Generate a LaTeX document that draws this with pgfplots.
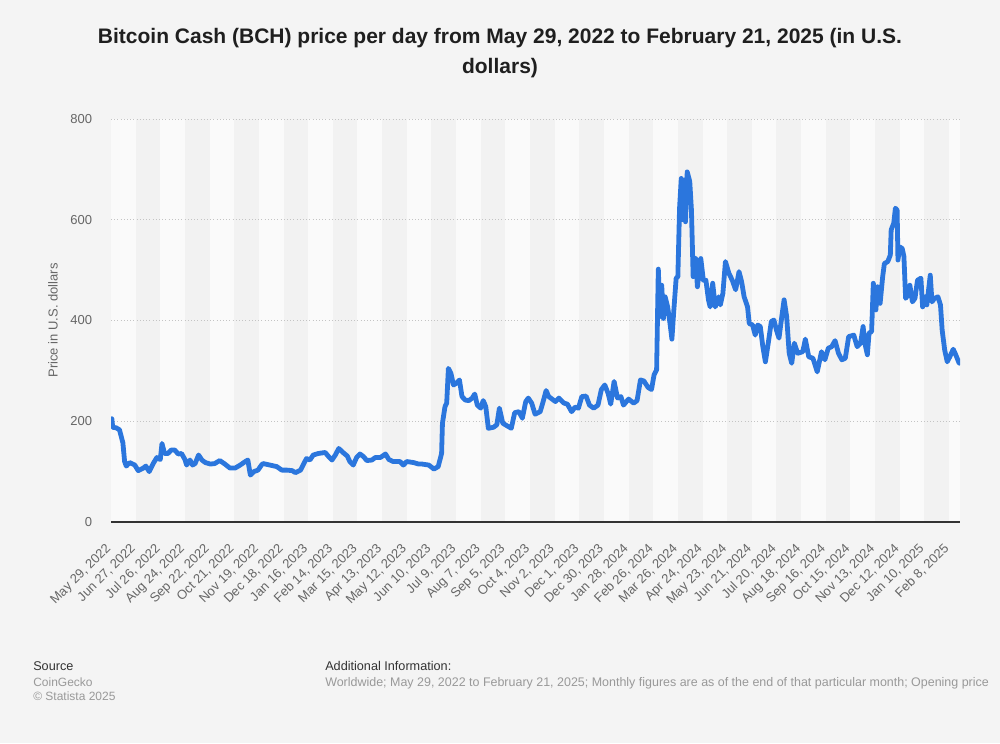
\documentclass[border=0pt]{standalone}
\usepackage{pgfplots}
\pgfplotsset{compat=1.18}
\usepackage{fontspec}
\setmainfont{Liberation Sans}

\definecolor{canvas}{HTML}{F4F4F4}
\definecolor{bandlight}{HTML}{FAFAFA}
\definecolor{banddark}{HTML}{F2F2F2}
\definecolor{bchblue}{HTML}{2B76DD}
\definecolor{ticktext}{HTML}{666666}
\definecolor{gridgray}{HTML}{C4C4C4}
\definecolor{axisdark}{HTML}{333333}
\definecolor{footgray}{HTML}{999999}
\pagecolor{canvas}

\begin{document}
\begin{tikzpicture}
% free text, in pixel units of the 1000x743 original (y counted up)
\begin{scope}[x=0.75pt,y=0.75pt]
  \path (0,0) rectangle (1000,743);
  \node[font=\fontsize{15.75pt}{22.5pt}\selectfont\bfseries, align=center, text=black!88]
    at (500,690) {Bitcoin Cash (BCH) price per day from May 29, 2022 to February 21, 2025 (in U.S.\\dollars)};
  \node[anchor=base west, inner sep=0pt, font=\fontsize{9.5pt}{11pt}\selectfont, text=axisdark] at (33,73) {Source};
  \node[anchor=base west, inner sep=0pt, font=\fontsize{9pt}{11pt}\selectfont, text=footgray] at (33,56.5) {CoinGecko};
  \node[anchor=base west, inner sep=0pt, font=\fontsize{9pt}{11pt}\selectfont, text=footgray] at (33,42) {© Statista 2025};
  \node[anchor=base west, inner sep=0pt, font=\fontsize{9.5pt}{11pt}\selectfont, text=axisdark] at (325,73) {Additional Information:};
  \node[anchor=base west, inner sep=0pt, font=\fontsize{9.35pt}{11pt}\selectfont, text=footgray] at (325,56.5) {Worldwide; May 29, 2022 to February 21, 2025; Monthly figures are as of the end of that particular month; Opening price};
\end{scope}

\begin{axis}[
  at={(83.25pt,165.75pt)}, anchor=south west,
  width=636.75pt, height=302.25pt, scale only axis,
  set layers,
  xmin=0, xmax=999, ymin=0, ymax=800,
  axis x line*=bottom, axis y line*=left,
  x axis line style={draw=axisdark, line width=1.5pt},
  y axis line style={draw=none},
  major tick length=0pt,
  ytick={0,200,400,600,800},
  ymajorgrids,
  grid style={dotted, draw=gridgray, line width=0.7pt},
  xtick={0,29,...,986},
  xticklabels={{May 29, 2022},{Jun 27, 2022},{Jul 26, 2022},{Aug 24, 2022},{Sep 22, 2022},{Oct 21, 2022},{Nov 19, 2022},{Dec 18, 2022},{Jan 16, 2023},{Feb 14, 2023},{Mar 15, 2023},{Apr 13, 2023},{May 12, 2023},{Jun 10, 2023},{Jul 9, 2023},{Aug 7, 2023},{Sep 5, 2023},{Oct 4, 2023},{Nov 2, 2023},{Dec 1, 2023},{Dec 30, 2023},{Jan 28, 2024},{Feb 26, 2024},{Mar 26, 2024},{Apr 24, 2024},{May 23, 2024},{Jun 21, 2024},{Jul 20, 2024},{Aug 18, 2024},{Sep 16, 2024},{Oct 15, 2024},{Nov 13, 2024},{Dec 12, 2024},{Jan 10, 2025},{Feb 8, 2025}},
  tick label style={font=\fontsize{9.75pt}{11pt}\selectfont, text=ticktext},
  xticklabel style={xshift=-1.5pt, rotate=45, xshift=-4.5pt, anchor=north east, inner sep=0pt},
  xticklabel shift=12pt,
  yticklabel style={anchor=east, inner sep=0pt, xshift=-14pt},
  /pgf/number format/assume math mode=true,
  ylabel={Price in U.S. dollars},
  ylabel style={at={(axis description cs:-0.0683,0.5)}, anchor=center,
    font=\fontsize{9.75pt}{11pt}\selectfont, text=ticktext},
]
\begin{pgfonlayer}{axis background}
  \fill[banddark] (axis cs:0,0) rectangle (axis cs:999,800);
  \pgfplotsinvokeforeach{0,58,...,928}{
    \fill[bandlight] (axis cs:#1,0) rectangle (axis cs:{#1+29},800);
  }
  \fill[bandlight] (axis cs:986,0) rectangle (axis cs:999,800);
\end{pgfonlayer}

\addplot[bchblue, line width=3.6pt, line join=round, line cap=round] table {
x y
0 190
1 205
2 188
6 187
10 183
14 157
16 120
18 111
22 118
28 113
32 102
38 107
41 111
45 100
50 117
54 128
58 124
60 156
63 136
67 136
71 143
75 143
79 135
83 136
87 124
89 113
93 123
96 113
99 116
103 133
107 123
111 118
117 115
122 116
128 122
134 115
140 107
146 107
152 113
158 120
161 123
164 93
168 100
173 103
177 113
179 116
187 113
195 110
201 103
207 103
213 102
217 98
223 103
226 113
230 126
234 123
238 133
244 136
252 138
256 130
260 123
264 133
268 146
273 138
278 131
281 120
285 113
289 128
293 135
297 130
301 122
307 123
311 128
317 128
323 135
327 124
332 120
340 120
344 113
348 120
356 118
362 115
366 115
374 113
380 105
385 110
389 136
390 196
393 229
395 236
397 305
400 295
403 272
406 275
410 282
413 249
417 242
421 241
425 246
428 254
431 232
435 226
438 241
441 229
444 186
450 188
454 193
457 226
461 196
466 191
471 186
475 217
480 219
484 206
488 239
491 246
495 236
499 214
505 219
508 236
512 261
515 249
519 244
523 239
527 246
533 236
537 234
542 219
546 228
550 226
554 249
559 250
563 232
568 226
573 232
577 263
581 272
585 255
588 234
592 279
596 246
600 249
603 232
609 244
615 236
619 241
623 282
627 280
632 267
636 263
639 292
642 302
644 502
646 408
648 470
650 404
652 447
655 427
658 391
660 363
662 414
665 484
667 487
669 623
671 682
673 600
675 679
676 596
678 695
681 676
683 619
685 487
688 523
690 467
694 523
697 480
700 480
703 441
705 427
708 474
711 427
715 447
717 431
720 454
723 517
727 494
731 480
735 461
739 497
742 477
745 447
749 427
751 394
755 391
758 371
761 391
764 388
767 348
770 318
773 351
777 398
780 401
783 381
786 365
789 404
792 441
795 408
798 335
801 315
804 355
808 335
814 338
817 363
821 328
826 325
831 298
836 338
840 322
844 345
848 348
852 360
856 335
860 322
864 325
868 368
874 371
878 348
882 355
885 388
887 355
890 332
892 375
895 378
897 474
900 421
902 467
905 434
908 487
910 513
914 517
917 530
918 580
921 593
923 623
925 619
926 520
928 546
931 543
933 527
935 444
938 451
940 470
943 437
946 444
949 480
953 484
955 427
958 447
960 431
964 490
966 437
969 444
973 447
976 431
978 381
981 341
984 318
987 328
991 343
994 332
998 315
999 320
};
\end{axis}
\end{tikzpicture}
\end{document}
